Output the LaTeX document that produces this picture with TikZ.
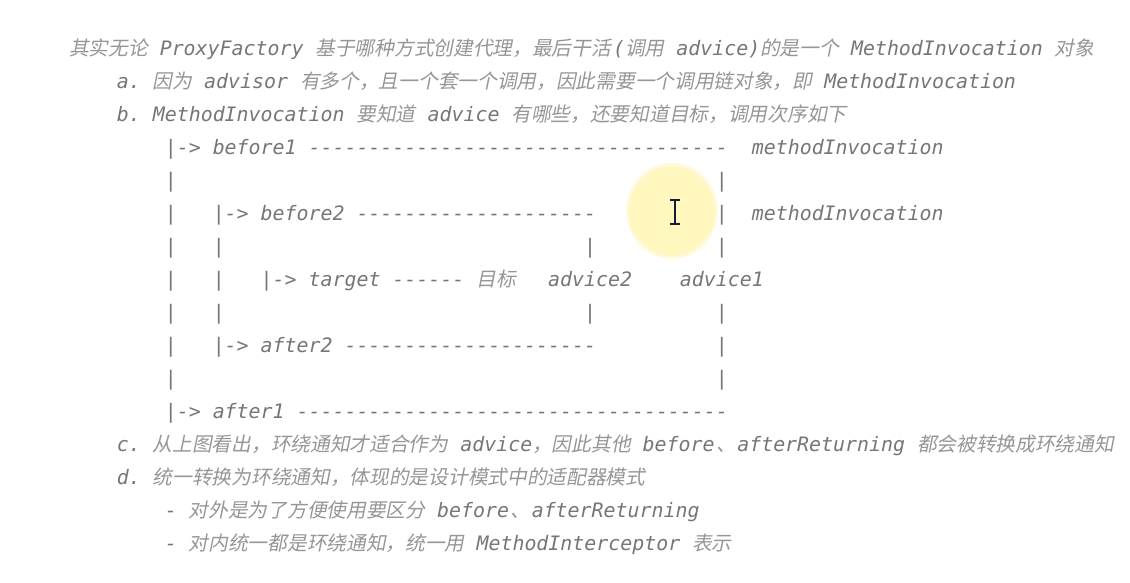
\documentclass[tikz,border=0pt]{standalone}
\usepackage{fontspec}
\setmonofont{DejaVu Sans Mono}
\newfontfamily\cjk{Noto Sans CJK SC}[FakeSlant=0.2,Scale=0.99]
\definecolor{txtgray}{RGB}{118,118,118}
\definecolor{cjkgray}{RGB}{150,150,150}
\definecolor{hlyellow}{RGB}{255,247,190}
\definecolor{beam}{RGB}{20,24,60}
\newcommand\zh[1]{{\cjk\color{cjkgray}#1}}
\newcommand\dsh[1]{\foreach \i in {1,...,#1}{-}}
\newcommand\dun{\kern1.5pt\zh{、}\kern1.5pt}
\tikzset{
  txt/.style={anchor=base west, inner sep=0pt, outer sep=0pt, text=txtgray,
    font=\fontsize{19.9}{24}\selectfont\ttfamily\itshape},
  ibeam/.style={draw=beam, line width=1.8pt},
}
\newcommand\seg[4]{\node[txt] (#1) at ({69+11.98*#2},{55+33*#3}) {#4};}
\begin{document}
\begin{tikzpicture}[x=1pt,y=-1pt]
\fill[white] (0,0) rectangle (1130,582);
\useasboundingbox (0,0) rectangle (1130,582);
% highlight of the mouse pointer
\fill[hlyellow, opacity=0.5] (672,211) ellipse [x radius=46, y radius=48];
\fill[hlyellow] (672,211) ellipse [x radius=43, y radius=45];
% text
\seg{l0}{0}{0}{\zh{其实无论} ProxyFactory \zh{基于哪种方式创建代理，最后干活}\kern2pt(\zh{调用} advice)\zh{的是一个} MethodInvocation \zh{对象}}
\seg{l1}{4}{1}{a. \zh{因为} advisor \zh{有多个，且一个套一个调用，因此需要一个调用链对象，即} MethodInvocation}
\seg{l2}{4}{2}{b. MethodInvocation \zh{要知道} advice \zh{有哪些，还要知道目标，调用次序如下}}
% diagram
\seg{d3a}{8}{3}{|-> before1 \dsh{35}}
\seg{d3b}{57}{3}{methodInvocation}
\seg{d4a}{8}{4}{|}
\seg{d4b}{54}{4}{|}
\seg{d5a}{8}{5}{|}
\seg{d5b}{12}{5}{|-> before2 \dsh{20}}
\seg{d5c}{54}{5}{|}
\seg{d5d}{57}{5}{methodInvocation}
\seg{d6a}{8}{6}{|}
\seg{d6b}{12}{6}{|}
\seg{d6c}{43}{6}{|}
\seg{d6d}{54}{6}{|}
\seg{d7a}{8}{7}{|}
\seg{d7b}{12}{7}{|}
\seg{d7c}{16}{7}{|-> target \dsh{6}}
\seg{d7d}{34}{7}{\zh{目标}}
\seg{d7e}{40}{7}{advice2}
\seg{d7f}{51}{7}{advice1}
\seg{d8a}{8}{8}{|}
\seg{d8b}{12}{8}{|}
\seg{d8c}{43}{8}{|}
\seg{d8d}{54}{8}{|}
\seg{d9a}{8}{9}{|}
\seg{d9b}{12}{9}{|-> after2 \dsh{21}}
\seg{d9c}{54}{9}{|}
\seg{d10a}{8}{10}{|}
\seg{d10b}{54}{10}{|}
\seg{d11a}{8}{11}{|-> after1 \dsh{36}}
% remaining text
\seg{l12}{4}{12}{c. \zh{从上图看出，环绕通知才适合作为} advice\zh{，因此其他} before\dun afterReturning \zh{都会被转换成环绕通知}}
\seg{l13}{4}{13}{d. \zh{统一转换为环绕通知，体现的是设计模式中的适配器模式}}
\seg{l14}{8}{14}{- \zh{对外是为了方便使用要区分} before\dun afterReturning}
\seg{l15}{8}{15}{- \zh{对内统一都是环绕通知，统一用} MethodInterceptor \zh{表示}}
% text cursor
\draw[ibeam] (675,200) -- (675,224);
\draw[ibeam] (670,200) -- (680,200);
\draw[ibeam] (670,224) -- (680,224);
\end{tikzpicture}
\end{document}
